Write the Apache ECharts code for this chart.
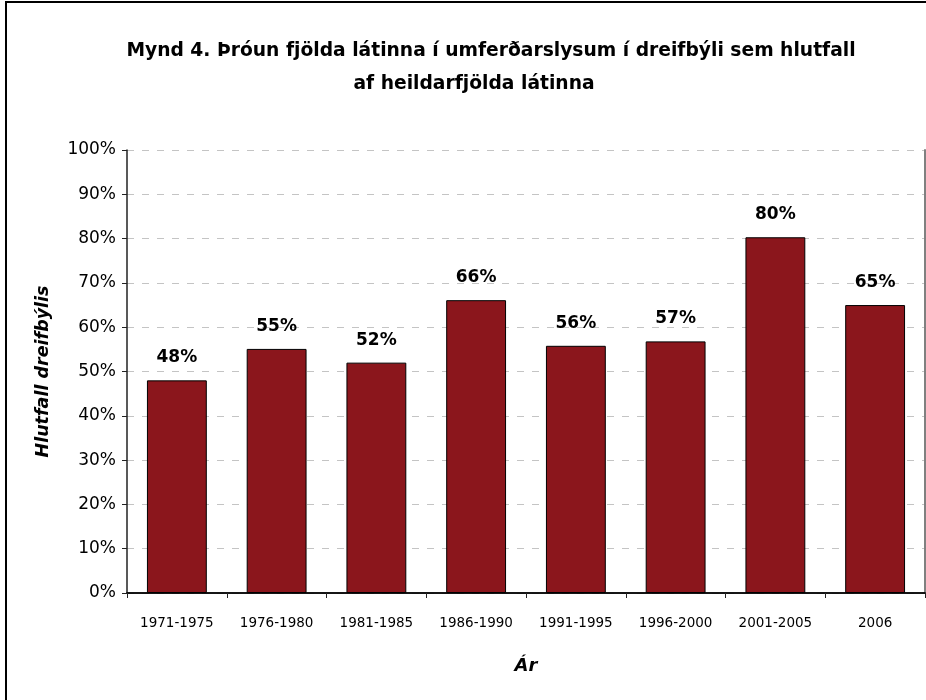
<!DOCTYPE html>
<html>
<head>
<meta charset="utf-8">
<script src="https://cdn.jsdelivr.net/npm/echarts@6/dist/echarts.min.js"></script>
<style>
html,body{margin:0;padding:0;background:#fff;}
#chart{width:926px;height:700px;}
</style>
</head>
<body>
<div id="chart"></div>
<script>
const categories = ['1971-1975','1976-1980','1981-1985','1986-1990','1991-1995','1996-2000','2001-2005','2006'];
const shares = [48, 55.1, 52, 66.1, 55.8, 56.8, 80.3, 65];
const yTicks = [0,10,20,30,40,50,60,70,80,90,100];
const titleLine1 = 'Mynd 4. Þróun fjölda látinna í umferðarslysum í dreifbýli sem hlutfall';
const titleLine2 = 'af heildarfjölda látinna';
const yTitle = 'Hlutfall dreifbýlis';
const xTitle = 'Ár';

const chart = echarts.init(document.getElementById('chart'), null, {renderer:'canvas'});
const F = 'DejaVu Sans';
chart.setOption({
  animation:false,
  backgroundColor:'#fff',
  title:[
    {text:titleLine1, left:486, top:37, textAlign:'center',
     textStyle:{fontFamily:F, fontSize:18.7, fontWeight:'bold', color:'#000'}},
    {text:titleLine2, left:469, top:70, textAlign:'center',
     textStyle:{fontFamily:F, fontSize:18.7, fontWeight:'bold', color:'#000'}}
  ],
  graphic:[{type:'rect', shape:{x:6,y:2,width:1000,height:1000}, style:{fill:'none',stroke:'#000',lineWidth:2}, silent:true}],
  grid:{left:127, top:150, right:1, bottom:107, containLabel:false},
  xAxis:[{
    type:'category', data:categories,
    axisLine:{lineStyle:{color:'#222', width:1.5}},
    axisTick:{show:true, length:5, alignWithLabel:false, lineStyle:{color:'#222'}},
    axisLabel:{fontFamily:F, fontSize:13.5, color:'#000', margin:23, interval:0},
    name:xTitle, nameLocation:'middle', nameGap:64,
    nameTextStyle:{fontFamily:F, fontSize:18, fontWeight:'bold', fontStyle:'italic', color:'#000'}
  },{
    type:'category', data:categories, position:'top',
    axisLine:{lineStyle:{color:'#000', width:1.5}}, axisTick:{show:false}, axisLabel:{show:false}
  }],
  yAxis:[{
    type:'value', min:0, max:100, interval:10,
    axisLine:{show:true, lineStyle:{color:'#222', width:1.5}},
    axisTick:{show:true, length:5, lineStyle:{color:'#222'}},
    axisLabel:{fontFamily:F, fontSize:17, color:'#000', margin:11,
      formatter:v=> yTicks.includes(v) ? v+'%' : ''},
    splitLine:{show:true, lineStyle:{color:'#c4c4c4', type:[7,8], width:1}},
    name:yTitle, nameLocation:'middle', nameGap:75, nameRotate:90,
    nameTextStyle:{fontFamily:F, fontSize:17.5, fontWeight:'bold', fontStyle:'italic', color:'#000'}
  },{
    type:'value', min:0, max:100, position:'right',
    axisLine:{show:true, lineStyle:{color:'#808080', width:2}},
    axisTick:{show:false}, axisLabel:{show:false}, splitLine:{show:false}
  }],
  series:[{
    type:'bar', data:shares, barCategoryGap:'40%',
    itemStyle:{color:'#8B161C', borderColor:'#000', borderWidth:1},
    label:{show:true, position:'top', distance:14, fontFamily:F, fontSize:17, fontWeight:'bold', color:'#000',
      formatter:p=>Math.round(p.value)+'%'}
  }]
});
</script>
</body>
</html>
